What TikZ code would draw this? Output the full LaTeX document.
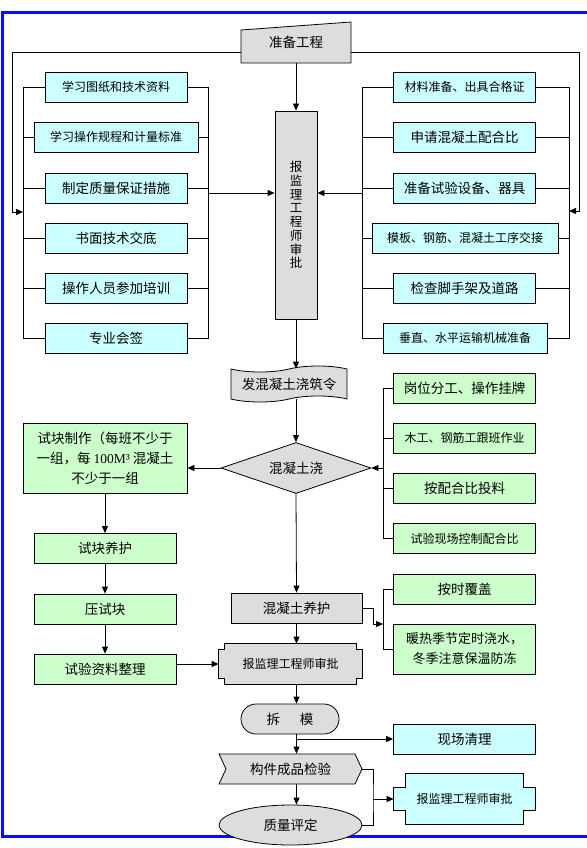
\documentclass[tikz,border=0pt]{standalone}
\usepackage{fontspec}
\setmainfont{Noto Sans CJK SC}
\newfontfamily\numfont{Liberation Serif}
\usetikzlibrary{shapes.geometric,shapes.symbols,shapes.misc,arrows.meta,backgrounds}

\definecolor{boxcyan}{HTML}{CCFFFF}
\definecolor{boxgreen}{HTML}{CCFFCC}
\definecolor{boxgrey}{HTML}{DDDDDD}
\definecolor{frameblue}{HTML}{0A0AFF}

% outline with square notches at the four corners
\newcommand\notchpath[3]{([xshift=#2]#1.north west) -- ([xshift=-#2]#1.north east) -- ([xshift=-#2,yshift=-#3]#1.north east) -- ([yshift=-#3]#1.north east) -- ([yshift=#3]#1.south east) -- ([xshift=-#2,yshift=#3]#1.south east) -- ([xshift=-#2]#1.south east) -- ([xshift=#2]#1.south west) -- ([xshift=#2,yshift=#3]#1.south west) -- ([yshift=#3]#1.south west) -- ([yshift=-#3]#1.north west) -- ([xshift=#2,yshift=-#3]#1.north west) -- cycle}

\begin{document}
\begin{tikzpicture}[x=1pt,y=-1pt,line width=.8pt,
  every node/.style={inner sep=0pt, font=\fontsize{13.5}{16}\selectfont},
  box/.style={draw, minimum height=30pt},
  bluebox/.style={box, fill=boxcyan, minimum width=142pt},
  greenbox/.style={box, fill=boxgreen, minimum width=142pt},
  greybox/.style={draw, fill=boxgrey},
  small/.style={font=\fontsize{12}{14}\selectfont},
  arr/.style={-{Triangle[length=7pt,width=6pt]}}]
\useasboundingbox (0,0) rectangle (586,848);
\draw[frameblue, line width=3pt, line join=miter] (600,12.5) -- (2.5,12.5) -- (2.5,836) -- (600,836);

\filldraw[fill=boxgrey] (241,30) -- (351,22) -- (351,63) -- (241,63) -- cycle;
\node[minimum width=110pt, minimum height=41pt] (prep) at (296,42.5) {准备工程};
\node[greybox, minimum width=42pt, minimum height=208pt, align=center, font=\fontsize{12.5}{13.7}\selectfont] (approve) at (296,215) {报\\监\\理\\工\\程\\师\\审\\批};

\node[bluebox, small] (l1) at (116,87) {学习图纸和技术资料};
\node[bluebox, small, minimum width=164pt] (l2) at (116,137) {学习操作规程和计量标准};
\node[bluebox] (l3) at (116,188) {制定质量保证措施};
\node[bluebox] (l4) at (116,238) {书面技术交底};
\node[bluebox] (l5) at (116,288) {操作人员参加培训};
\node[bluebox] (l6) at (116,338) {专业会签};

\node[bluebox, small] (r1) at (464.5,87) {材料准备、出具合格证};
\node[bluebox] (r2) at (464.5,137) {申请混凝土配合比};
\node[bluebox] (r3) at (464.5,188) {准备试验设备、器具};
\node[bluebox, small, minimum width=186pt] (r4) at (465,238) {模板、钢筋、混凝土工序交接};
\node[bluebox] (r5) at (464.5,288) {检查脚手架及道路};
\node[bluebox, small, minimum width=164pt] (r6) at (465,338) {垂直、水平运输机械准备};

\coordinate (lb) at (23,212);
\coordinate (lr) at (208,193);
\coordinate (rb) at (362,193);
\coordinate (rr) at (569,211);
\coordinate (ll) at (12,212);
\coordinate (rl) at (579,211);

\draw (l1.west) -- (l1.west -| lb) -- (l6.west -| lb) -- (l6.west);
\draw (l2.west) -- (l2.west -| lb);
\draw (l3.west) -- (l3.west -| lb);
\draw (l4.west) -- (l4.west -| lb);
\draw (l5.west) -- (l5.west -| lb);
\draw (l1.east) -- (l1.east -| lr) -- (l6.east -| lr) -- (l6.east);
\draw (l2.east) -- (l2.east -| lr);
\draw (l3.east) -- (l3.east -| lr);
\draw (l4.east) -- (l4.east -| lr);
\draw (l5.east) -- (l5.east -| lr);

\draw (r1.west) -- (r1.west -| rb) -- (r6.west -| rb) -- (r6.west);
\draw (r2.west) -- (r2.west -| rb);
\draw (r3.west) -- (r3.west -| rb);
\draw (r4.west) -- (r4.west -| rb);
\draw (r5.west) -- (r5.west -| rb);
\draw (r1.east) -- (r1.east -| rr) -- (r6.east -| rr) -- (r6.east);
\draw (r2.east) -- (r2.east -| rr);
\draw (r3.east) -- (r3.east -| rr);
\draw (r4.east) -- (r4.east -| rr);
\draw (r5.east) -- (r5.east -| rr);

\draw[arr] (prep.south) -- (approve.north);
\draw[arr] ([yshift=-10pt]prep.west) -| (ll) -- (lb);
\draw[arr] ([yshift=-10pt]prep.east) -| (rl) -- (rr);
\draw[arr] (lr) -- (lr -| approve.west);
\draw[arr] (rb) -- (rb -| approve.east);

\node[greybox, tape, tape bend height=6pt, minimum width=116pt, minimum height=36pt] (order) at (289,384) {发混凝土浇筑令};
\node[greybox, diamond, aspect=3, minimum width=150pt, minimum height=51pt] (pour) at (296,468) {混凝土浇};
\draw[arr] (approve.south) -- (approve.south |- order.north);
\draw[arr] (approve.south |- order.south) -- (pour.north);

\node[greenbox, minimum width=164pt, minimum height=70pt, align=center, font=\fontsize{13.5}{20}\selectfont] (trial) at (105,458) {试块制作（每班不少于\\一组，每 {\numfont 100M³} 混凝土\\不少于一组};
\node[greenbox] (cure1) at (105,548.5) {试块养护};
\node[greenbox] (press) at (105,609) {压试块};
\node[greenbox] (data) at (105,669) {试验资料整理};
\draw[arr] (pour.west) -- (pour.west -| trial.east);
\draw[arr] (trial.south) -- (cure1.north);
\draw[arr] (cure1.south) -- (press.north);
\draw[arr] (press.south) -- (data.north);

\node[greenbox] (g1) at (464.5,388) {岗位分工、操作挂牌};
\node[greenbox, small] (g2) at (464.5,438) {木工、钢筋工跟班作业};
\node[greenbox] (g3) at (464.5,488) {按配合比投料};
\node[greenbox, small] (g4) at (464.5,538.5) {试验现场控制配合比};
\coordinate (gb) at (383,468);
\draw (g1.west) -- (g1.west -| gb) -- (g4.west -| gb) -- (g4.west);
\draw (g2.west) -- (g2.west -| gb);
\draw (g3.west) -- (g3.west -| gb);
\draw[arr] (gb) -- (pour.east);

\node[greybox, minimum width=131pt, minimum height=30pt] (cure2) at (296.5,608) {混凝土养护};
\draw[arr] (pour.south) -- (cure2.north);
\node[greenbox] (g5) at (464.5,589) {按时覆盖};
\node[greenbox, minimum height=50pt, align=center, font=\fontsize{13}{20}\selectfont] (g6) at (464.5,649) {暖热季节定时浇水，\\冬季注意保温防冻};
\coordinate (cb) at (383,624);
\coordinate (ck) at (373,624);
\draw (g5.west) -- (g5.west -| cb) -- (g6.west -| cb) -- (g6.west);
\draw[arr] (cure2.east) -| (ck) -- (cb);

\node[minimum width=143pt, minimum height=40pt, small] (check) at (290.5,664) {报监理工程师审批};
\draw[arr] (cure2.south) -- (cure2.south |- check.north);
\draw[arr] (data.east |- check.west) -- (check.west);

\node[greybox, rounded rectangle, minimum width=98pt, minimum height=30pt] (demold) at (290,719) {拆\hspace{20pt}模};
\draw[arr] (cure2.south |- check.south) -- (cure2.south |- demold.north);

\node[greybox, signal, signal to=east, signal from=west, signal pointer angle=130, minimum width=143pt, minimum height=30pt] (inspect) at (290.5,769) {构件成品检验};
\node[bluebox] (clean) at (464.5,739) {现场清理};
\draw[arr] (cure2.south |- demold.south) -- (cure2.south |- inspect.north);
\draw[arr] (cure2.south |- clean.west) -- (clean.west);

\node[greybox, ellipse, minimum width=143pt, minimum height=40pt] (grade) at (290.5,825) {质量评定};
\draw[arr] (cure2.south |- inspect.south) -- (cure2.south |- grade.north);

\node[minimum width=141pt, minimum height=50pt, small] (report) at (464.5,799) {报监理工程师审批};
\coordinate (ej) at (373,799);
\draw (inspect.east) -| (ej) |- (grade.east);
\draw[arr] (ej) -- (report.west);

\begin{scope}[on background layer]
\filldraw[fill=boxgrey] \notchpath{check}{6pt}{6pt};
\filldraw[fill=boxcyan] \notchpath{report}{12pt}{14pt};
\end{scope}
\end{tikzpicture}
\end{document}
